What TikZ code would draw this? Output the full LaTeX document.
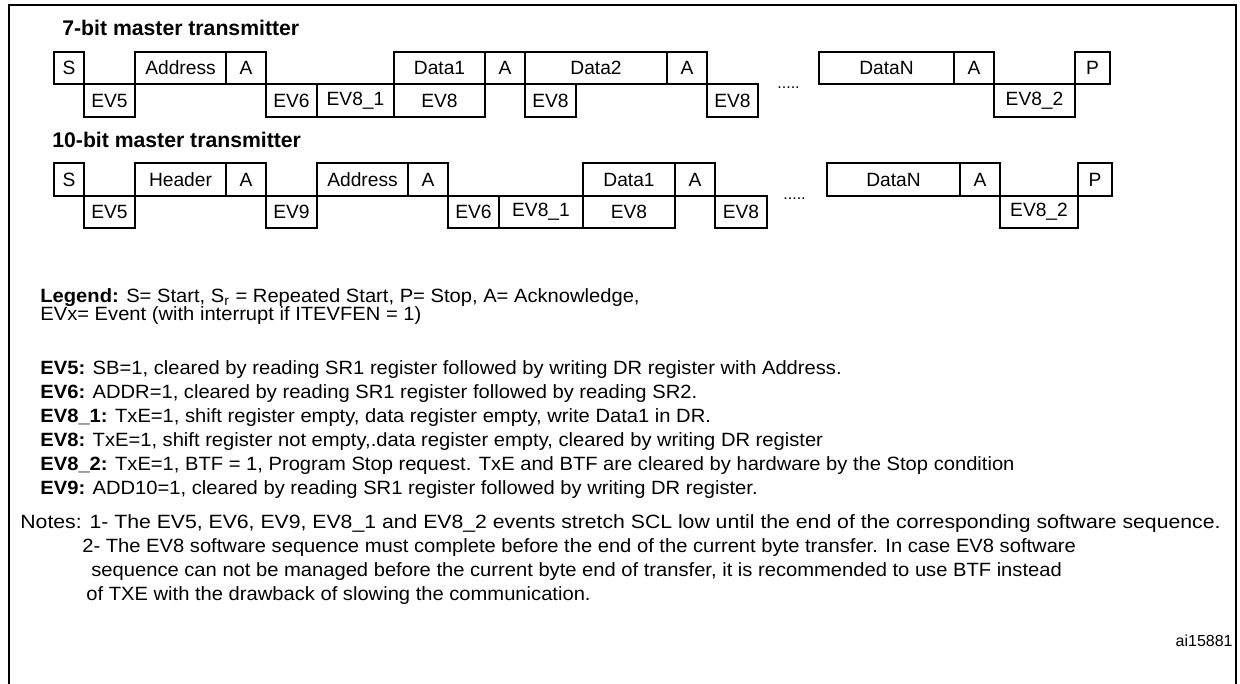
\documentclass[tikz,border=0pt]{standalone}
\usepackage{fontspec}
\setmainfont{Liberation Sans}
\newfontfamily\bodyf{Liberation Sans}[FakeStretch=1.05]
\newfontfamily\notef{Liberation Sans}[FakeStretch=1.105]
\newcommand\bx[6]{\node[box, minimum width={(#4-#3)*0.5pt}, minimum height={(#6-#5)*0.5pt}] (#1) at ({(#3+#4)/2},{(#5+#6)/2}) {#2};}
\begin{document}
\begin{tikzpicture}[x=0.5pt,y=-0.5pt,
  box/.style={draw, line width=0.7pt, inner sep=0pt, outer sep=0pt, font=\fontsize{9.6}{11}\selectfont},
  ttl/.style={anchor=base west, inner sep=0pt, font=\fontsize{10.6}{12}\selectfont\bfseries},
  txt/.style={anchor=base west, inner sep=0pt, font=\bodyf\fontsize{9.6}{11}\selectfont},
  note/.style={anchor=base west, inner sep=0pt, font=\notef\fontsize{9.6}{11}\selectfont},
  dots/.style={anchor=west, inner sep=0pt, font=\fontsize{8}{9}\selectfont},
  frame/.style={line width=1.4pt}
]
\useasboundingbox (0,0) rectangle (1240,684);
% frame
\coordinate (fbl) at (9,684);
\coordinate (ftl) at (9,5);
\coordinate (ftr) at (1236,5);
\coordinate (fbr) at (1236,684);
\draw[frame] (fbl) -- (ftl) -- (ftr) -- (fbr);

% 7-bit
\node[ttl] (t7) at (62,36) {7-bit master transmitter};
\bx{a1}{S}{54}{84}{52}{84}
\bx{a2}{EV5}{84}{135}{84}{117}
\bx{a3}{Address}{135}{226}{52}{84}
\bx{a4}{A}{226}{266}{52}{84}
\bx{a5}{EV6}{266}{317}{84}{117}
\bx{a6}{EV8\_1}{317}{394}{84}{117}
\bx{a7}{Data1}{394}{485}{52}{84}
\bx{a8}{EV8}{394}{485}{84}{117}
\bx{a9}{A}{485}{525}{52}{84}
\bx{a10}{Data2}{525}{667}{52}{84}
\bx{a11}{EV8}{525}{576}{84}{117}
\bx{a12}{A}{667}{707}{52}{84}
\bx{a13}{EV8}{707}{758}{84}{117}
\node[dots] (ad) at (777,88) {.....};
\bx{a14}{DataN}{819}{954}{52}{84}
\bx{a15}{A}{954}{994}{52}{84}
\bx{a16}{EV8\_2}{994}{1075}{84}{117}
\bx{a17}{P}{1075}{1110}{52}{84}

% 10-bit
\node[ttl] (t10) at (52,148) {10-bit master transmitter};
\bx{b1}{S}{54}{84}{163}{196}
\bx{b2}{EV5}{84}{135}{196}{228}
\bx{b3}{Header}{135}{226}{163}{196}
\bx{b4}{A}{226}{266}{163}{196}
\bx{b5}{EV9}{266}{317}{196}{228}
\bx{b6}{Address}{317}{408}{163}{196}
\bx{b7}{A}{408}{448}{163}{196}
\bx{b8}{EV6}{448}{499}{196}{228}
\bx{b9}{EV8\_1}{499}{583}{196}{228}
\bx{b10}{Data1}{583}{675}{163}{196}
\bx{b11}{EV8}{583}{675}{196}{228}
\bx{b12}{A}{675}{715}{163}{196}
\bx{b13}{EV8}{715}{767}{196}{228}
\node[dots] (bd) at (783,199) {.....};
\bx{b14}{DataN}{827}{960}{163}{196}
\bx{b15}{A}{960}{1000}{163}{196}
\bx{b16}{EV8\_2}{1000}{1078}{196}{228}
\bx{b17}{P}{1078}{1112}{163}{196}

% legend
\node[txt] (lg1) at (40,302) {\textbf{Legend:} S= Start, S\textsubscript{r} = Repeated Start, P= Stop, A= Acknowledge,};
\node[txt] (lg2) at (40,320) {EVx= Event (with interrupt if ITEVFEN = 1)};

\node[txt] (e5) at (40,374) {\textbf{EV5:} SB=1, cleared by reading SR1 register followed by writing DR register with Address.};
\node[txt] (e6) at (40,398) {\textbf{EV6:} ADDR=1, cleared by reading SR1 register followed by reading SR2.};
\node[txt] (e81) at (40,422) {\textbf{EV8\_1:} TxE=1, shift register empty, data register empty, write Data1 in DR.};
\node[txt] (e8) at (40,446) {\textbf{EV8:} TxE=1, shift register not empty,.data register empty, cleared by writing DR register};
\node[txt] (e82) at (40,470) {\textbf{EV8\_2:} TxE=1, BTF = 1, Program Stop request. TxE and BTF are cleared by hardware by the Stop condition};
\node[txt] (e9) at (40,494) {\textbf{EV9:} ADD10=1, cleared by reading SR1 register followed by writing DR register.};

\node[note] (n1) at (20,528) {Notes: 1- The EV5, EV6, EV9, EV8\_1 and EV8\_2 events stretch SCL low until the end of the corresponding software sequence.};
\node[txt] (n2) at (82,552) {2- The EV8 software sequence must complete before the end of the current byte transfer. In case EV8 software};
\node[txt] (n3) at (91,576) {sequence can not be managed before the current byte end of transfer, it is recommended to use BTF instead};
\node[txt] (n4) at (86,600) {of TXE with the drawback of slowing the communication.};

\node[anchor=base east, inner sep=0pt, font=\fontsize{8}{9}\selectfont] (id) at (1233,646) {ai15881};
\end{tikzpicture}
\end{document}
